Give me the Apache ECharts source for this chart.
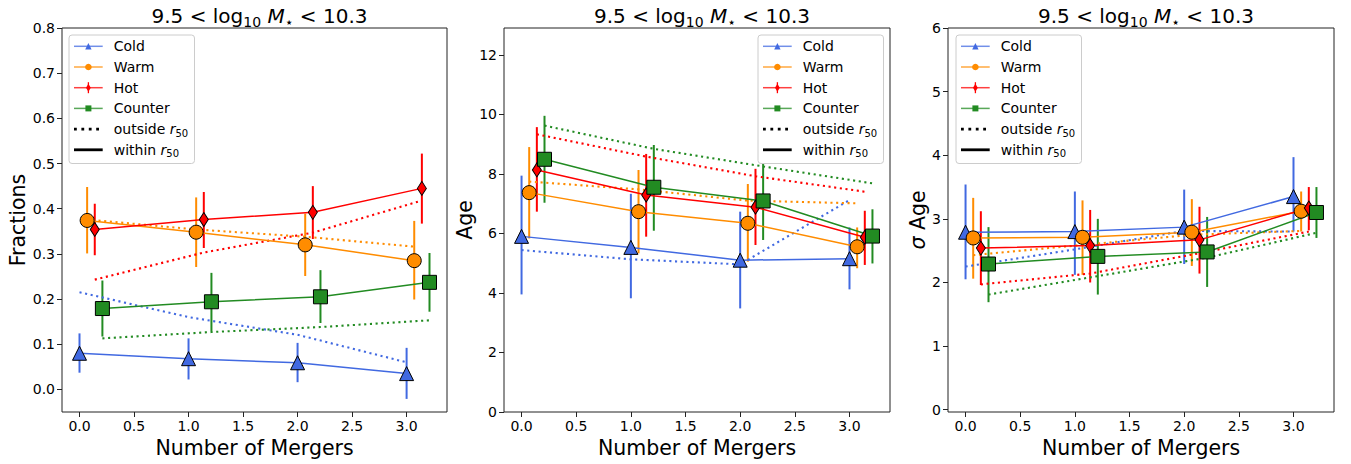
<!DOCTYPE html>
<html>
<head>
<meta charset="utf-8">
<script src="https://cdn.jsdelivr.net/npm/echarts@6/dist/echarts.min.js"></script>
<style>
  html, body { margin: 0; padding: 0; background: #fff; }
  #chart { width: 1351px; height: 464px; }
</style>
</head>
<body>
<div id="chart"></div>
<script>
// Merger-count bins; each component is nudged sideways so the markers do not pile up
const mergers = [0, 1, 2, 3];
const componentNames = ['Cold', 'Warm', 'Hot', 'Counter'];
const componentOffsets = [0, 0.07, 0.14, 0.21];
const xTicks = [0, 0.5, 1, 1.5, 2, 2.5, 3];

// ---- Panel 1: fractions ----
const fracTicks = [0, 0.1, 0.2, 0.3, 0.4, 0.5, 0.6, 0.7, 0.8];
const fracColdIn = [0.080, 0.068, 0.059, 0.035];
const fracColdHi = [0.124, 0.113, 0.103, 0.092];
const fracColdLo = [0.037, 0.022, 0.016, -0.021];
const fracColdOut = [0.215, 0.160, 0.121, 0.060];
const fracWarmIn = [0.374, 0.348, 0.320, 0.285];
const fracWarmHi = [0.448, 0.425, 0.389, 0.373];
const fracWarmLo = [0.301, 0.271, 0.251, 0.199];
const fracWarmOut = [0.376, 0.354, 0.338, 0.316];
const fracHotIn = [0.354, 0.376, 0.392, 0.445];
const fracHotHi = [0.411, 0.437, 0.450, 0.522];
const fracHotLo = [0.297, 0.313, 0.333, 0.367];
const fracHotOut = [0.243, 0.303, 0.347, 0.418];
const fracCounterIn = [0.179, 0.194, 0.205, 0.237];
const fracCounterHi = [0.241, 0.258, 0.264, 0.302];
const fracCounterLo = [0.117, 0.129, 0.147, 0.172];
const fracCounterOut = [0.113, 0.127, 0.138, 0.153];

// ---- Panel 2: mean age ----
const ageTicks = [0, 2, 4, 6, 8, 10, 12];
const ageColdIn = [5.90, 5.53, 5.10, 5.15];
const ageColdHi = [7.94, 7.33, 6.73, 6.20];
const ageColdLo = [3.95, 3.82, 3.48, 4.12];
const ageColdOut = [5.44, 5.13, 4.96, 7.12];
const ageWarmIn = [7.37, 6.73, 6.34, 5.55];
const ageWarmHi = [8.90, 8.13, 7.66, 6.20];
const ageWarmLo = [5.83, 5.33, 5.05, 4.83];
const ageWarmOut = [7.74, 7.48, 7.10, 7.01];
const ageHotIn = [8.13, 7.29, 6.88, 5.87];
const ageHotHi = [9.57, 8.67, 8.17, 6.76];
const ageHotLo = [6.73, 5.89, 5.61, 4.94];
const ageHotOut = [9.33, 8.58, 7.92, 7.40];
const ageCounterIn = [8.49, 7.55, 7.09, 5.91];
const ageCounterHi = [9.95, 8.97, 8.33, 6.81];
const ageCounterLo = [7.03, 6.09, 5.78, 4.99];
const ageCounterOut = [9.62, 8.84, 8.25, 7.68];

// ---- Panel 3: age dispersion ----
const sigTicks = [0, 1, 2, 3, 4, 5, 6];
const sigColdIn = [2.79, 2.80, 2.87, 3.35];
const sigColdHi = [3.54, 3.43, 3.46, 3.97];
const sigColdLo = [2.05, 2.12, 2.29, 2.80];
const sigColdOut = [2.25, 2.52, 2.81, 2.80];
const sigWarmIn = [2.70, 2.71, 2.79, 3.12];
const sigWarmHi = [3.33, 3.29, 3.31, 3.43];
const sigWarmLo = [2.06, 2.12, 2.26, 2.80];
const sigWarmOut = [2.43, 2.59, 2.75, 2.81];
const sigHotIn = [2.54, 2.58, 2.67, 3.17];
const sigHotHi = [3.12, 3.14, 3.19, 3.50];
const sigHotLo = [1.96, 2.00, 2.14, 2.82];
const sigHotOut = [1.97, 2.14, 2.46, 2.80];
const sigCounterIn = [2.29, 2.41, 2.48, 3.10];
const sigCounterHi = [2.87, 3.00, 3.03, 3.50];
const sigCounterLo = [1.69, 1.81, 1.93, 2.70];
const sigCounterOut = [1.81, 2.10, 2.39, 2.78];

// ---- styling ----
const FONT = 'DejaVu Sans';
const colors = ['#4169E1', '#FF8C00', '#FF0000', '#228B22'];
const symbols = ['triangle', 'circle', 'diamond', 'rect'];
const symbolSizes = [[14, 14], [14, 14], [9, 14], [14, 14]];

const panels = [
  {
    yName: 'Fractions', yMin: -0.05, yMax: 0.8, ticks: fracTicks, digits: 1, nameGap: 32,
    grid: { left: 62, width: 385 },
    sets: [
      [fracColdIn, fracColdLo, fracColdHi, fracColdOut],
      [fracWarmIn, fracWarmLo, fracWarmHi, fracWarmOut],
      [fracHotIn, fracHotLo, fracHotHi, fracHotOut],
      [fracCounterIn, fracCounterLo, fracCounterHi, fracCounterOut]
    ],
    legendLeft: 69
  },
  {
    yName: 'Age', yMin: 0, yMax: 12.9, ticks: ageTicks, digits: 0, nameGap: 28,
    grid: { left: 504, width: 386 },
    sets: [
      [ageColdIn, ageColdLo, ageColdHi, ageColdOut],
      [ageWarmIn, ageWarmLo, ageWarmHi, ageWarmOut],
      [ageHotIn, ageHotLo, ageHotHi, ageHotOut],
      [ageCounterIn, ageCounterLo, ageCounterHi, ageCounterOut]
    ],
    legendLeft: 758
  },
  {
    yName: '{i|σ} Age', yMin: -0.036, yMax: 6, ticks: sigTicks, digits: 0, nameGap: 20,
    grid: { left: 948, width: 386 },
    sets: [
      [sigColdIn, sigColdLo, sigColdHi, sigColdOut],
      [sigWarmIn, sigWarmLo, sigWarmHi, sigWarmOut],
      [sigHotIn, sigHotLo, sigHotHi, sigHotOut],
      [sigCounterIn, sigCounterLo, sigCounterHi, sigCounterOut]
    ],
    legendLeft: 956
  }
];

const GRID_TOP = 28;
const GRID_HEIGHT = 384;

const grids = [], xAxes = [], yAxes = [], titles = [], series = [], graphics = [];

panels.forEach((p, pi) => {
  grids.push({
    left: p.grid.left, top: GRID_TOP, width: p.grid.width, height: GRID_HEIGHT,
    show: true, borderColor: '#222', borderWidth: 1, backgroundColor: 'transparent'
  });

  xAxes.push({
    type: 'value', gridIndex: pi, min: -0.1605, max: 3.3705,
    axisLine: { show: false, onZero: false },
    splitLine: { show: false },
    axisTick: { show: true, customValues: xTicks, length: 5, lineStyle: { color: '#222', width: 1 } },
    axisLabel: {
      customValues: xTicks, formatter: v => v.toFixed(1),
      fontFamily: FONT, fontSize: 14, color: '#000', margin: 7
    },
    name: 'Number of Mergers', nameLocation: 'middle', nameGap: 18,
    nameTextStyle: { fontFamily: FONT, fontSize: 20.5, color: '#000' }
  });

  yAxes.push({
    type: 'value', gridIndex: pi, min: p.yMin, max: p.yMax,
    axisLine: { show: false, onZero: false },
    splitLine: { show: false },
    axisTick: { show: true, customValues: p.ticks, length: 5, lineStyle: { color: '#222', width: 1 } },
    axisLabel: {
      customValues: p.ticks, formatter: v => v.toFixed(p.digits),
      fontFamily: FONT, fontSize: 14, color: '#000', margin: 7
    },
    name: p.yName, nameLocation: 'middle', nameGap: p.nameGap, nameRotate: 90,
    nameTextStyle: {
      fontFamily: FONT, fontSize: 20.5, color: '#000',
      rich: { i: { fontFamily: FONT, fontSize: 20.5, fontStyle: 'italic', color: '#000' } }
    }
  });

  titles.push({
    text: '{a|9.5 < log}{b|10}{a| }{i|M}{b|⋆}{a| < 10.3}',
    left: p.grid.left + p.grid.width / 2, top: -2, textAlign: 'center',
    textStyle: {
      fontFamily: FONT, fontSize: 20, fontWeight: 'normal', color: '#000',
      rich: {
        a: { fontFamily: FONT, fontSize: 20, fontWeight: 'normal', lineHeight: 26, color: '#000' },
        i: { fontFamily: FONT, fontSize: 20, fontWeight: 'normal', lineHeight: 26, fontStyle: 'italic', color: '#000' },
        b: { fontFamily: FONT, fontSize: 14, fontWeight: 'normal', lineHeight: 14, verticalAlign: 'bottom', color: '#000' }
      }
    }
  });

  p.sets.forEach((set, ci) => {
    const [vin, lo, hi, out] = set;
    const xs = mergers.map(m => m + componentOffsets[ci]);
    const color = colors[ci];

    // vertical error bars
    series.push({
      type: 'custom', name: componentNames[ci] + ' error', xAxisIndex: pi, yAxisIndex: pi,
      z: 1, silent: true, clip: true,
      data: xs.map((x, i) => [x, lo[i], hi[i]]),
      encode: { x: 0, y: [1, 2] },
      renderItem: (params, api) => {
        const a = api.coord([api.value(0), api.value(1)]);
        const b = api.coord([api.value(0), api.value(2)]);
        return {
          type: 'line',
          shape: { x1: a[0], y1: a[1], x2: b[0], y2: b[1] },
          style: { stroke: color, lineWidth: 2 }
        };
      }
    });

    // outside r50 (dotted)
    series.push({
      type: 'line', name: componentNames[ci] + ' outside', xAxisIndex: pi, yAxisIndex: pi,
      z: 2, silent: true, symbol: 'none',
      data: xs.map((x, i) => [x, out[i]]),
      lineStyle: { color: color, width: 2.1, type: [2.1, 3.6], cap: 'butt' }
    });
  });

  // within r50 (solid with markers), drawn above all error bars
  p.sets.forEach((set, ci) => {
    const vin = set[0];
    const xs = mergers.map(m => m + componentOffsets[ci]);
    series.push({
      type: 'line', name: componentNames[ci], xAxisIndex: pi, yAxisIndex: pi,
      z: 3, silent: true,
      symbol: symbols[ci], symbolSize: symbolSizes[ci], showAllSymbol: true,
      data: xs.map((x, i) => [x, vin[i]]),
      lineStyle: { color: colors[ci], width: 1.5 },
      itemStyle: { color: colors[ci], borderColor: '#000', borderWidth: 1, opacity: 1 }
    });
  });

  // legend box
  const L = p.legendLeft, T = 35;
  const rowH = 20.7, firstRow = 11.3;
  const children = [{
    type: 'rect', shape: { x: 0, y: 0, width: 125.5, height: 128.5, r: 3 },
    style: { fill: 'rgba(255,255,255,0.85)', stroke: '#cccccc', lineWidth: 1 }
  }];
  const mk = (ci, cx, cy) => {
    const c = colors[ci];
    if (ci === 0) return { type: 'polygon', shape: { points: [[cx, cy - 3.2], [cx - 3.2, cy + 3.2], [cx + 3.2, cy + 3.2]] }, style: { fill: c } };
    if (ci === 1) return { type: 'circle', shape: { cx: cx, cy: cy, r: 3.3 }, style: { fill: c } };
    if (ci === 2) return { type: 'polygon', shape: { points: [[cx, cy - 4], [cx - 2.4, cy], [cx, cy + 4], [cx + 2.4, cy]] }, style: { fill: c } };
    return { type: 'rect', shape: { x: cx - 3, y: cy - 3, width: 6, height: 6 }, style: { fill: c } };
  };
  const textStyle = {
    fontFamily: FONT, fontSize: 14, fill: '#000', verticalAlign: 'middle', align: 'left',
    rich: {
      t: { fontFamily: FONT, fontSize: 14, lineHeight: 18, fill: '#000', color: '#000' },
      r: { fontFamily: FONT, fontSize: 14, lineHeight: 18, fontStyle: 'italic', color: '#000' },
      s: { fontFamily: FONT, fontSize: 10, lineHeight: 10, verticalAlign: 'bottom', color: '#000' }
    }
  };
  componentNames.forEach((name, ci) => {
    const y = firstRow + rowH * ci;
    children.push({ type: 'line', shape: { x1: 5, y1: y, x2: 33.7, y2: y }, style: { stroke: colors[ci], lineWidth: 1.5, opacity: 0.75 } });
    if (ci === 2) children.push({ type: 'line', shape: { x1: 19.4, y1: y - 5.5, x2: 19.4, y2: y + 5.5 }, style: { stroke: colors[ci], lineWidth: 1.3 } });
    children.push(mk(ci, 19.4, y));
    children.push({ type: 'text', x: 44.7, y: y, style: Object.assign({}, textStyle, { text: '{t|' + name + '}' }) });
  });
  const yOut = firstRow + rowH * 4, yIn = firstRow + rowH * 5;
  children.push({ type: 'line', shape: { x1: 5, y1: yOut, x2: 33.7, y2: yOut }, style: { stroke: '#000', lineWidth: 2.8, lineDash: [2.8, 4.6] } });
  children.push({ type: 'text', x: 44.7, y: yOut, style: Object.assign({}, textStyle, { text: '{t|outside }{r|r}{s|50}' }) });
  children.push({ type: 'line', shape: { x1: 5, y1: yIn, x2: 33.7, y2: yIn }, style: { stroke: '#000', lineWidth: 2.8 } });
  children.push({ type: 'text', x: 44.7, y: yIn, style: Object.assign({}, textStyle, { text: '{t|within }{r|r}{s|50}' }) });

  graphics.push({ type: 'group', x: L, y: T, z: 10, silent: true, children: children });
});

const chart = echarts.init(document.getElementById('chart'), null, { renderer: 'svg' });
chart.setOption({
  animation: false,
  backgroundColor: '#fff',
  title: titles,
  grid: grids,
  xAxis: xAxes,
  yAxis: yAxes,
  series: series,
  graphic: graphics
});
</script>
</body>
</html>
